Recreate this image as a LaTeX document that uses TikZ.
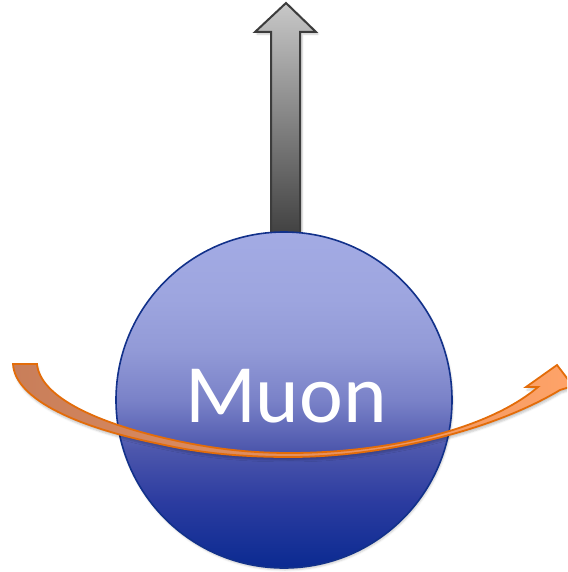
\documentclass[tikz,border=0pt]{standalone}
\usepackage{fontspec}
\setmainfont{Carlito}
\usetikzlibrary{shadows.blur}
\definecolor{grayline}{RGB}{60,60,60}
\definecolor{graytop}{RGB}{200,200,200}
\definecolor{graybot}{RGB}{64,64,64}
\definecolor{bsA}{RGB}{10,42,145}
\definecolor{bsB}{RGB}{44,60,160}
\definecolor{bsC}{RGB}{76,86,172}
\definecolor{bsD}{RGB}{122,130,200}
\definecolor{bsE}{RGB}{146,154,215}
\definecolor{bsF}{RGB}{157,165,223}
\definecolor{bsG}{RGB}{163,171,228}
\definecolor{ballline}{RGB}{18,49,138}
\definecolor{bandline}{RGB}{227,108,9}
\definecolor{bandleft}{RGB}{200,126,90}
\definecolor{bandright}{RGB}{255,163,104}
\pgfdeclareverticalshading{ballshade}{100bp}{color(0bp)=(bsA); color(25bp)=(bsA); color(35bp)=(bsB); color(42.5bp)=(bsC); color(50bp)=(bsD); color(57.5bp)=(bsE); color(65bp)=(bsF); color(75bp)=(bsG); color(100bp)=(bsG)}
\tikzset{
  spinarrow/.style={draw=grayline, line width=2pt, top color=graytop, bottom color=graybot, line join=miter},
  ball/.style={circle, draw=ballline, line width=1.6pt, minimum size=336pt, inner sep=0pt,
    shade, shading=ballshade},
  balltext/.style={text=white, font=\fontsize{83}{90}\selectfont, anchor=base, inner sep=0pt},
  band/.style={draw=bandline, line width=1.8pt, left color=bandleft, right color=bandright, line join=miter}
}
\begin{document}
\begin{tikzpicture}[x=1pt, y=-1pt]
\useasboundingbox (0,0) rectangle (567,572);
\clip (0,0) rectangle (567,572);
% spin arrow
\path[spinarrow, blur shadow={shadow xshift=2pt, shadow yshift=-2pt, shadow opacity=25}]
  (271,236) -- (271,32) -- (255,32) -- (286,3) -- (316,32) -- (300,32) -- (300,236) -- cycle;
% muon sphere
\node[ball, blur shadow={shadow xshift=1pt, shadow yshift=-2pt, shadow opacity=20}] (muon) at (284,400) {};
\node[balltext] (name) at (286,422) {Muon};
% rotation band
\path[band, blur shadow={shadow xshift=1pt, shadow yshift=-3pt, shadow opacity=22}]
  (13,364) -- (37,364)
  .. controls (40,395) and (90,420) .. (160,437)
  .. controls (210,449) and (250,453) .. (290,453)
  .. controls (380,453) and (485,432) .. (538,387)
  -- (526,387) -- (557,365) -- (573,386) -- (560,390)
  .. controls (490,432) and (380,457) .. (290,457)
  .. controls (240,457) and (200,453) .. (160,444)
  .. controls (80,428) and (15,400) .. (13,364) -- cycle;
\end{tikzpicture}
\end{document}
